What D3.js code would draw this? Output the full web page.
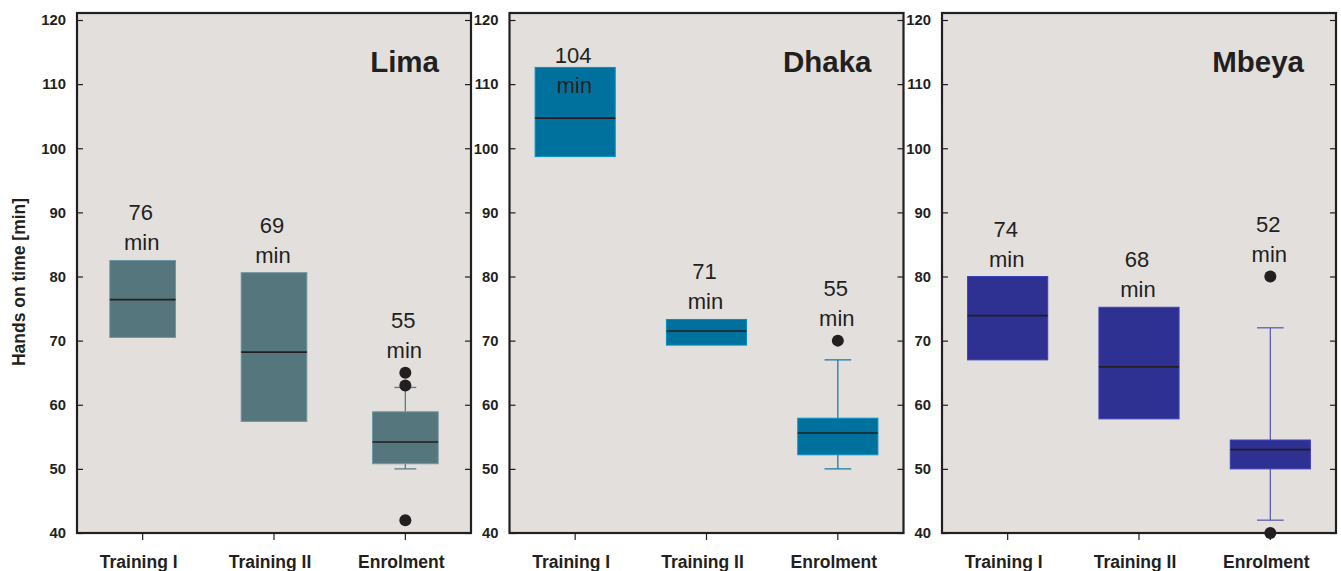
<!DOCTYPE html>
<html>
<head>
<meta charset="utf-8">
<script src="https://cdn.jsdelivr.net/npm/d3@7"></script>
<style>
  html, body { margin: 0; padding: 0; background: #ffffff; }
  svg { display: block; font-family: "Liberation Sans", Arial, Helvetica, sans-serif; }
</style>
</head>
<body>
<svg id="chart" width="1341" height="571"></svg>
<script>
// Hands-on time per study site and activity (box plots)
const sites = ["Lima", "Dhaka", "Mbeya"];
const categories = ["Training I", "Training II", "Enrolment"];
const yTicks = [40, 50, 60, 70, 80, 90, 100, 110, 120];

// per site: one value per category
const q1 = [
  [70.5, 57.4, 50.8],
  [98.7, 69.3, 52.2],
  [67.0, 57.8, 50.0]
];
const medians = [
  [76.4, 68.2, 54.2],
  [104.7, 71.5, 55.6],
  [73.9, 65.9, 53.0]
];
const q3 = [
  [82.5, 80.6, 58.9],
  [112.6, 73.3, 57.9],
  [80.0, 75.2, 54.5]
];
const whiskerLow = [
  [null, null, 50.0],
  [null, null, 50.0],
  [null, null, 42.0]
];
const whiskerHigh = [
  [null, null, 62.7],
  [null, null, 67.0],
  [null, null, 72.0]
];
const outliers = [
  [[], [], [65, 63, 42]],
  [[], [], [70]],
  [[], [], [80, 40]]
];
const means = [
  [76, 69, 55],
  [104, 71, 55],
  [74, 68, 52]
];

// styling
const boxColors = ["#56767d", "#00719c", "#2e3192"];
const whiskerColors = ["#5b7c84", "#1a7fa8", "#5c5fb3"];
const boxWidthFrac = [0.5, 0.61, 0.61];
const ink = "#231f20";
const plotBg = "#e2dfdd";
const fontStack = "'Liberation Sans', Arial, Helvetica, sans-serif";

const svg = d3.select("#chart");

const panelLeft = 77, panelW = 394, panelStep = 432.5;
const frameTop = 13, frameBottom = 533;

const y = d3.scaleLinear().domain([40, 120]).range([533, 20]);

// rotated y-axis title
svg.append("text")
  .attr("transform", "translate(24.5,282) rotate(-90)")
  .attr("text-anchor", "middle")
  .attr("font-weight", "bold")
  .attr("font-size", 17.5)
  .attr("fill", ink)
  .text("Hands on time [min]");

sites.forEach((site, si) => {
  const x0 = panelLeft + si * panelStep;
  const g = svg.append("g").attr("transform", `translate(${x0},0)`);

  const x = d3.scaleBand().domain(categories).range([0, panelW]);
  const bw = x.bandwidth() * boxWidthFrac[si];
  const cx = c => x(c) + x.bandwidth() / 2;
  const color = boxColors[si];

  // plot background
  g.append("rect")
    .attr("x", 0).attr("y", frameTop)
    .attr("width", panelW).attr("height", frameBottom - frameTop)
    .attr("fill", plotBg);

  // left axis: inward ticks with labels
  const left = g.append("g")
    .call(d3.axisLeft(y).tickValues(yTicks).tickSize(-6).tickPadding(11));
  // right axis: inward ticks only
  const right = g.append("g").attr("transform", `translate(${panelW},0)`)
    .call(d3.axisRight(y).tickValues(yTicks).tickSize(-6).tickFormat(""));
  // bottom axis: outward ticks with category names
  const bottom = g.append("g").attr("transform", `translate(0,${frameBottom})`)
    .call(d3.axisBottom(x).tickSize(7).tickPadding(15.6));

  [left, right, bottom].forEach(a => {
    a.attr("font-family", fontStack);
    a.select(".domain").remove();
    a.selectAll(".tick line").attr("stroke", ink).attr("stroke-width", 1.2);
    a.selectAll("text").attr("fill", ink).attr("font-weight", "bold");
  });
  left.attr("font-size", 14.8);
  bottom.attr("font-size", 17.5);
  bottom.selectAll("text").attr("dx", -4);

  categories.forEach((cat, ci) => {
    const c = cx(cat);
    const lo = whiskerLow[si][ci], hi = whiskerHigh[si][ci];

    // whiskers and caps
    if (lo !== null && hi !== null) {
      const wg = g.append("g").attr("stroke", whiskerColors[si]).attr("stroke-width", 1.3);
      wg.append("line").attr("x1", c).attr("x2", c).attr("y1", y(hi)).attr("y2", y(q3[si][ci]));
      wg.append("line").attr("x1", c).attr("x2", c).attr("y1", y(q1[si][ci])).attr("y2", y(lo));
      [lo, hi].forEach(v => {
        wg.append("line").attr("x1", c - bw / 6).attr("x2", c + bw / 6)
          .attr("y1", y(v)).attr("y2", y(v));
      });
    }

    // box
    g.append("rect")
      .attr("x", c - bw / 2).attr("width", bw)
      .attr("y", y(q3[si][ci])).attr("height", y(q1[si][ci]) - y(q3[si][ci]))
      .attr("fill", color)
      .attr("stroke", d3.color(color).brighter(0.7))
      .attr("stroke-width", 1);

    // median
    g.append("line")
      .attr("x1", c - bw / 2).attr("x2", c + bw / 2)
      .attr("y1", y(medians[si][ci])).attr("y2", y(medians[si][ci]))
      .attr("stroke", ink).attr("stroke-width", 1.6);

    // outliers
    g.selectAll(null).data(outliers[si][ci]).enter().append("circle")
      .attr("cx", c).attr("cy", d => y(d)).attr("r", 6)
      .attr("fill", ink);

    // mean label above the highest mark
    const topOut = outliers[si][ci].length ? d3.max(outliers[si][ci]) : null;
    let minBase = y(q3[si][ci]) - 10;
    if (topOut !== null && topOut > q3[si][ci]) minBase = y(topOut) - 15;
    let numBase = minBase - 30;
    if (numBase < frameTop + 50) { numBase = frameTop + 50; minBase = numBase + 30; }
    const lab = g.append("text")
      .attr("text-anchor", "middle")
      .attr("font-size", 22)
      .attr("fill", ink);
    lab.append("tspan").attr("x", c - 2).attr("y", numBase).text(means[si][ci]);
    lab.append("tspan").attr("x", c - 1).attr("y", minBase).text("min");
  });

  // frame
  g.append("rect")
    .attr("x", 0).attr("y", frameTop)
    .attr("width", panelW).attr("height", frameBottom - frameTop)
    .attr("fill", "none")
    .attr("stroke", ink).attr("stroke-width", 2.2);

  // site name
  g.append("text")
    .attr("x", panelW - 32).attr("y", 71.5)
    .attr("text-anchor", "end")
    .attr("font-size", 29.5)
    .attr("font-weight", "bold")
    .attr("fill", ink)
    .text(site);
});
</script>
</body>
</html>
